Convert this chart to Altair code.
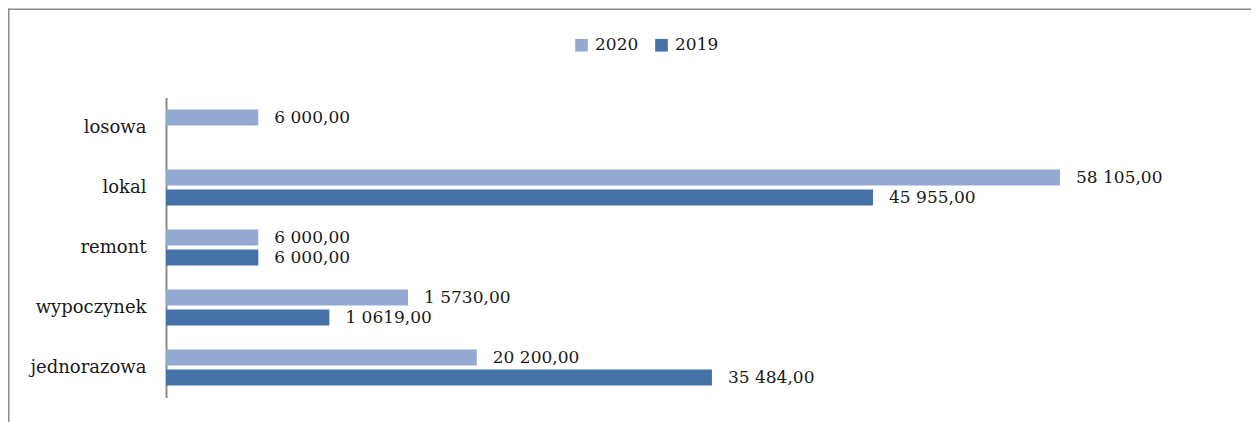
import altair as alt
import pandas as pd

categories = ["losowa", "lokal", "remont", "wypoczynek", "jednorazowa"]
years = ["2020", "2019"]
values_2020 = [6000, 58105, 6000, 15730, 20200]
values_2019 = [None, 45955, 6000, 10619, 35484]
labels_2020 = ["6 000,00", "58 105,00", "6 000,00", "1 5730,00", "20 200,00"]
labels_2019 = [None, "45 955,00", "6 000,00", "1 0619,00", "35 484,00"]
colors = ["#95AAD1", "#4573A8"]

rows = []
for c, v, l in zip(categories, values_2020, labels_2020):
    if v is not None:
        rows.append({"cat": c, "year": "2020", "value": v, "label": l})
for c, v, l in zip(categories, values_2019, labels_2019):
    if v is not None:
        rows.append({"cat": c, "year": "2019", "value": v, "label": l})
df = pd.DataFrame(rows)

FONT = "DejaVu Serif"
TXT = "#1a1a1a"

base = alt.Chart(df).encode(
    y=alt.Y("cat:N", sort=categories,
            scale=alt.Scale(paddingInner=0.4, paddingOuter=0.2),
            axis=alt.Axis(title=None, ticks=False, domainColor="#8c8c8c", domainWidth=2,
                          labelFont=FONT, labelFontSize=18, labelColor=TXT, labelPadding=20,
                          grid=False)),
    yOffset=alt.YOffset("year:N", sort=years,
                        scale=alt.Scale(domain=years, paddingInner=0.2, paddingOuter=0)),
)

bars = base.mark_bar().encode(
    x=alt.X("value:Q", scale=alt.Scale(domain=[0, 70000], nice=False), axis=None),
    color=alt.Color("year:N", scale=alt.Scale(domain=years, range=colors),
                    legend=alt.Legend(title=None, orient="none", legendX=407, legendY=-61,
                                      direction="horizontal", symbolType="square",
                                      symbolSize=160, symbolStrokeWidth=0,
                                      labelFont=FONT, labelFontSize=17, labelColor=TXT,
                                      labelOffset=5, columnPadding=14)),
)

text = base.mark_text(align="left", baseline="middle", dx=16, font=FONT, fontSize=17,
                      color=TXT).encode(
    x=alt.X("value:Q"),
    text="label:N",
)

frame_df = pd.DataFrame({"k": [0]})
left_border = alt.Chart(frame_df).mark_rule(color="#8c8c8c", strokeWidth=1.5).encode(
    x=alt.value(-157.25), x2=alt.value(-157.25), y=alt.value(-89), y2=alt.value(340))
top_border = alt.Chart(frame_df).mark_rule(color="#8c8c8c", strokeWidth=1.5).encode(
    x=alt.value(-158), x2=alt.value(1100), y=alt.value(-88.25), y2=alt.value(-88.25))

chart = alt.layer(bars, text, left_border, top_border).properties(
    width=1077, height=300,
    autosize=alt.AutoSizeParams(type="none"),
    padding={"left": 158, "top": 89.5, "right": 8, "bottom": 24},
).configure(font=FONT).configure_view(stroke=None)

chart.save("out.html", embed_options={"renderer": "svg", "actions": False})
